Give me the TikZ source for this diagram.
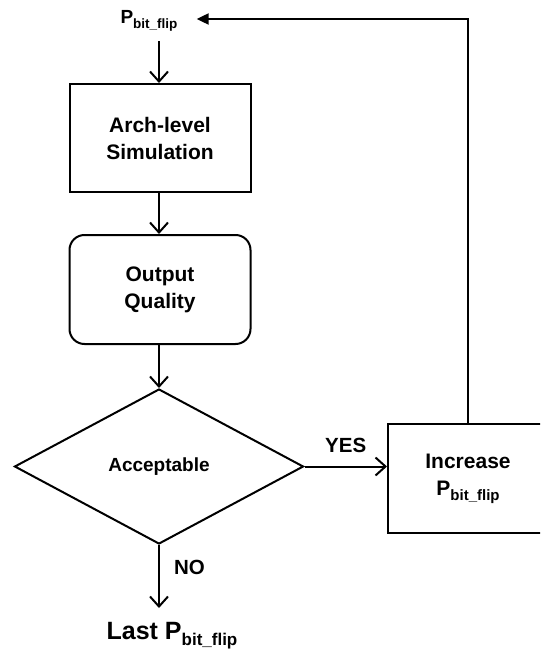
\documentclass[tikz,border=0pt]{standalone}
\usepackage{fontspec}
\setmainfont{Liberation Sans}
\usetikzlibrary{shapes.geometric,arrows.meta}
\newcommand{\mysub}[2]{{\fontsize{#1}{#1}\selectfont #2}}
\begin{document}
\begin{tikzpicture}[x=1pt,y=-1pt,
  txt/.style={font=\fontsize{21}{27}\selectfont\bfseries, align=center, inner sep=0pt},
  box/.style={draw, line width=2pt, inner sep=0pt},
  conn/.style={line width=2pt, -{Straight Barb[length=10pt,width=18pt,line width=2pt]}},
  fb/.style={line width=2pt, -{Triangle[length=12pt,width=11pt]}},
  lbl/.style={font=\fontsize{20.5}{24}\selectfont\bfseries, inner sep=0pt}]
\clip (0,0) rectangle (540,652);
\node[txt, font=\fontsize{19}{24}\selectfont\bfseries] (ptop) at (149,21) {P\raisebox{-4.5pt}{\mysub{13.5}{bit\_flip}}};
\node[box, minimum width=181pt, minimum height=108pt] (b1) at (160,138) {};
\node[txt] (t1) at (b1) {Arch-level\\Simulation};
\node[box, rounded corners=15pt, minimum width=181pt, minimum height=109pt] (b2) at (160,289.5) {};
\node[txt] (t2) at (b2) {Output\\Quality};
\node[box, diamond, minimum width=289pt, minimum height=155pt, aspect=1.86] (dia) at (159,466.5) {};
\node[txt, font=\fontsize{19}{24}\selectfont\bfseries] (t3) at (dia) {Acceptable};
\node[box, minimum width=160pt, minimum height=109pt] (inc) at (468,478.5) {};
\node[txt, font=\fontsize{21}{27}\selectfont\bfseries] (t4) at (inc) {Increase\\P\raisebox{-5pt}{\mysub{15}{bit\_flip}}};
\node[txt, font=\fontsize{25}{30}\selectfont\bfseries, anchor=north] (last) at (172,622) {Last P\raisebox{-6pt}{\mysub{17}{bit\_flip}}};
\coordinate (endno) at (159,608);
\draw[conn, shorten <=10pt] (ptop.south -| dia.north) -- (b1.north -| dia.north);
\draw[conn] (b1.south -| dia.north) -- (b2.north -| dia.north);
\draw[conn] (b2.south -| dia.north) -- (dia.north);
\draw[conn] (dia.east) -- node[lbl, above=13pt] (yes) {YES} (dia.east -| inc.west);
\draw[conn] (dia.south) -- node[lbl, right=14pt, pos=0.35] (no) {NO} (endno);
\draw[fb] (inc.north) |- ([xshift=19pt,yshift=2pt]ptop.east);
\end{tikzpicture}
\end{document}
